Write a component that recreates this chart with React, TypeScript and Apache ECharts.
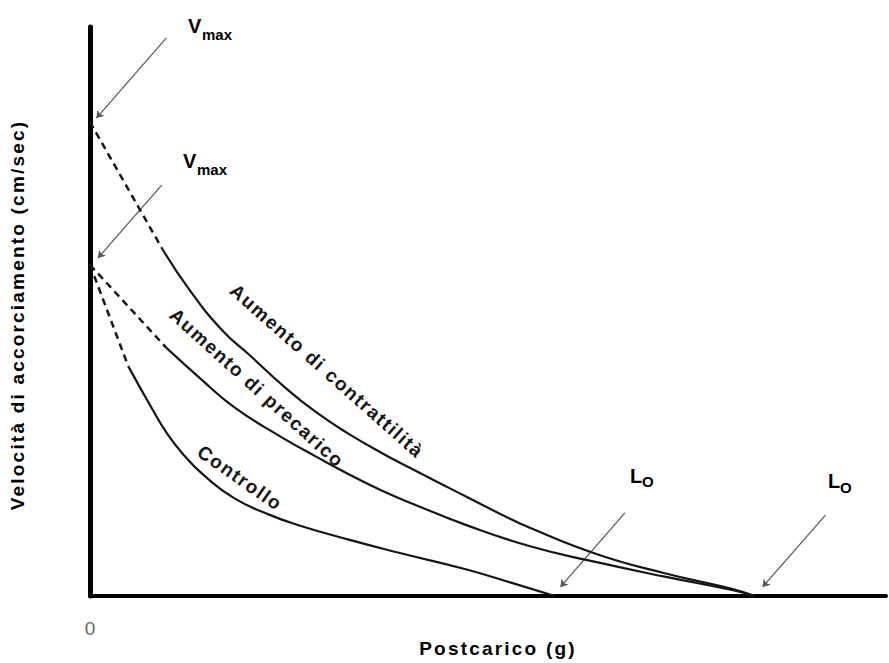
import React, { useEffect, useRef } from "react";
import * as echarts from "echarts";

// Postcarico (x) and velocità di accorciamento (y), both on a 0–100 scale.
const contrattilitaDashed: number[][] = [[0, 83.3], [9.0, 61.2]];
const contrattilita: number[][] = [
  [9.0, 61.2], [12.5, 53.8], [16.6, 46.7], [20.0, 42.4], [24.7, 36.4], [28.4, 32.3],
  [32.5, 28.5], [36.7, 25.1], [40.9, 22.0], [45.1, 19.0], [51.3, 14.6], [55.4, 11.9],
  [63.8, 7.3], [72.2, 4.0], [80.5, 1.3], [83.5, 0],
];

const precaricoDashed: number[][] = [[0, 58.2], [9.6, 43.6]];
const precarico: number[][] = [
  [9.6, 43.6], [13.8, 38.3], [18.1, 33.2], [24.2, 27.8], [28.4, 24.5], [32.5, 21.4],
  [36.7, 18.5], [40.9, 16.0], [47.2, 12.5], [55.4, 8.7], [63.8, 5.9], [72.2, 3.4],
  [80.5, 1.1], [83.5, 0],
];

const controlloDashed: number[][] = [[0, 58.2], [4.8, 40.4]];
const controllo: number[][] = [
  [4.8, 40.4], [7.8, 32.9], [9.8, 28.3], [11.9, 24.6], [14.4, 21.1], [18.1, 17.2],
  [22.5, 14.3], [26.3, 12.4], [32.5, 9.9], [38.8, 7.6], [47.2, 4.7], [53.0, 2.3],
  [58.4, 0],
];

// Annotation arrows: [tail, tip]
const vmaxArrows: number[][][] = [
  [[9.6, 98.1], [0.8, 84.0]],
  [[9.0, 72.2], [1.0, 59.4]],
];
const loArrows: number[][][] = [
  [[67.2, 14.6], [59.1, 1.6]],
  [[92.4, 14.2], [84.5, 1.6]],
];

const curveLabels = ["Aumento di contrattilità", "Aumento di precarico", "Controllo"];
const yTitle = "Velocità di accorciamento (cm/sec)";
const xTitle = "Postcarico (g)";

const FONT = '"Liberation Sans", Arial, sans-serif';
const INK = "#161616";

function solid(name: string, data: number[][]) {
  return {
    name,
    type: "line",
    data,
    smooth: 0.5,
    symbol: "none",
    silent: true,
    lineStyle: { color: INK, width: 2.2 },
  };
}

function dashed(name: string, data: number[][]) {
  return {
    name,
    type: "line",
    data,
    smooth: false,
    symbol: "none",
    silent: true,
    lineStyle: { color: INK, width: 2.5, type: [7, 5] },
  };
}

function arrows(data: number[][][]) {
  return {
    type: "lines",
    coordinateSystem: "cartesian2d",
    silent: true,
    symbol: ["none", "arrow"],
    symbolSize: 7,
    lineStyle: { color: "#555", width: 1.2, opacity: 1 },
    data: data.map((c) => ({ coords: c })),
  };
}

function label(text: string, x: number, y: number, deg: number, size = 19) {
  return {
    type: "text",
    x,
    y,
    rotation: (-deg * Math.PI) / 180,
    silent: true,
    style: {
      text,
      fill: INK,
      font: `bold ${size}px ${FONT}`,
      textAlign: "center",
      textVerticalAlign: "middle",
    },
  };
}

function plain(text: string, x: number, y: number, size: number) {
  return {
    type: "text",
    x,
    y,
    silent: true,
    style: {
      text,
      fill: "#000",
      font: `bold ${size}px ${FONT}`,
      textAlign: "left",
      textVerticalAlign: "middle",
    },
  };
}

// letter tracking (px) applied to the SVG text nodes after rendering
const tracking: Record<string, string> = {
  [curveLabels[0]]: "1.6px",
  [curveLabels[1]]: "1.6px",
  [curveLabels[2]]: "1.6px",
  [yTitle]: "2.2px",
  [xTitle]: "2.2px",
};

export default function App() {
  const ref = useRef<HTMLDivElement>(null);

  useEffect(() => {
    if (!ref.current) return;
    const el = ref.current;
    const chart = echarts.init(el, undefined, { renderer: "svg" });

    chart.setOption({
      animation: false,
      backgroundColor: "#fff",
      grid: { left: 90, right: 0, top: 27, bottom: 67 },
      xAxis: {
        type: "value",
        min: 0,
        max: 100,
        interval: 100,
        axisLine: { show: true, lineStyle: { color: "#000", width: 4 } },
        axisTick: { show: false },
        splitLine: { show: false },
        axisLabel: {
          formatter: (v: number) => (v === 0 ? "0" : ""),
          color: "#666",
          fontSize: 19,
          fontFamily: FONT,
          margin: 23,
        },
      },
      yAxis: {
        type: "value",
        min: 0,
        max: 100,
        interval: 100,
        axisLine: { show: true, lineStyle: { color: "#000", width: 5 } },
        axisTick: { show: false },
        splitLine: { show: false },
        axisLabel: { show: false },
      },
      series: [
        dashed("contrattilità-v", contrattilitaDashed),
        solid("Aumento di contrattilità", contrattilita),
        dashed("precarico-v", precaricoDashed),
        solid("Aumento di precarico", precarico),
        dashed("controllo-v", controlloDashed),
        solid("Controllo", controllo),
        arrows(vmaxArrows),
        arrows(loArrows),
      ],
      graphic: [
        label(curveLabels[0], 327, 371, 41.5),
        label(curveLabels[1], 257, 388, 42),
        label(curveLabels[2], 240, 478, 35),
        {
          type: "text",
          x: 17,
          y: 315,
          rotation: Math.PI / 2,
          silent: true,
          style: {
            text: yTitle,
            fill: "#000",
            font: `bold 19px ${FONT}`,
            textAlign: "center",
            textVerticalAlign: "middle",
          },
        },
        {
          type: "text",
          x: 498,
          y: 648,
          silent: true,
          style: {
            text: xTitle,
            fill: "#000",
            font: `bold 19px ${FONT}`,
            textAlign: "center",
            textVerticalAlign: "middle",
          },
        },
        plain("V", 188, 26, 20),
        plain("max", 202, 34, 15),
        plain("V", 183, 161, 20),
        plain("max", 197, 169, 15),
        plain("L", 630, 476, 20),
        plain("O", 642, 481, 15),
        plain("L", 828, 481, 20),
        plain("O", 840, 487, 15),
      ],
    });

    const track = () => {
      el.querySelectorAll("text").forEach((t) => {
        const ls = tracking[(t.textContent || "").trim()];
        if (ls) (t as SVGTextElement).style.letterSpacing = ls;
      });
    };
    chart.on("finished", track);
    track();
    const timer = window.setTimeout(track, 50);

    return () => {
      window.clearTimeout(timer);
      chart.dispose();
    };
  }, []);

  return (
    <div
      ref={ref}
      style={{ position: "absolute", left: 0, top: 0, width: 889, height: 663, background: "#fff" }}
    />
  );
}
